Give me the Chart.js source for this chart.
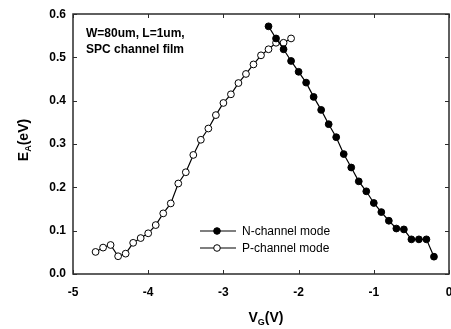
<!DOCTYPE html>
<html>
<head>
<meta charset="utf-8">
<script src="https://cdn.jsdelivr.net/npm/chart.js@4/dist/chart.umd.min.js"></script>
<style>
  html, body { margin: 0; padding: 0; background: #fff; overflow: hidden; }
  #wrap { width: 451px; height: 329px; position: relative; overflow: hidden; }
</style>
</head>
<body>
<div id="wrap"><canvas id="c" width="454" height="329"></canvas></div>
<script>
// Gate voltage (V) and activation energy (eV) for each conduction mode
const vgN = [-2.4, -2.3, -2.2, -2.1, -2.0, -1.9, -1.8, -1.7, -1.6, -1.5, -1.4, -1.3,
             -1.2, -1.1, -1.0, -0.9, -0.8, -0.7, -0.6, -0.5, -0.4, -0.3, -0.2];
const eaN = [0.572, 0.544, 0.519, 0.492, 0.467, 0.442, 0.409, 0.379, 0.346, 0.316, 0.277, 0.246,
             0.214, 0.191, 0.164, 0.143, 0.123, 0.105, 0.103, 0.080, 0.080, 0.080, 0.040];

const vgP = [-4.7, -4.6, -4.5, -4.4, -4.3, -4.2, -4.1, -4.0, -3.9, -3.8, -3.7, -3.6, -3.5,
             -3.4, -3.3, -3.2, -3.1, -3.0, -2.9, -2.8, -2.7, -2.6, -2.5, -2.4, -2.3, -2.2, -2.1];
const eaP = [0.051, 0.061, 0.067, 0.041, 0.047, 0.072, 0.083, 0.094, 0.113, 0.140, 0.163, 0.209, 0.235,
             0.275, 0.310, 0.336, 0.367, 0.395, 0.415, 0.441, 0.462, 0.484, 0.505, 0.519, 0.534, 0.534, 0.544];

const seriesNames = ['N-channel mode', 'P-channel mode'];
const xTicks = [-5, -4, -3, -2, -1, 0];
const yTicks = [0, 0.1, 0.2, 0.3, 0.4, 0.5, 0.6];
const noteLines = ['W=80um, L=1um,', 'SPC channel film'];

const FONT = '"Liberation Sans", Arial, Helvetica, sans-serif';
const INK = '#000';
const FRAME = '#2b2b2b';

function toPoints(xs, ys) { return xs.map((x, i) => ({ x: x, y: ys[i] })); }

// Frame, inward ticks, axis titles, note and legend
const decor = {
  id: 'decor',
  afterDraw(chart) {
    const ctx = chart.ctx;
    const xs = chart.scales.x, ys = chart.scales.y;
    const L = Math.round(xs.getPixelForValue(-5));
    const R = Math.round(xs.getPixelForValue(0));
    const T = Math.round(ys.getPixelForValue(0.6));
    const B = Math.round(ys.getPixelForValue(0));
    ctx.save();

    // box around the plot
    ctx.strokeStyle = FRAME;
    ctx.lineWidth = 1.5;
    ctx.lineCap = 'square';
    ctx.beginPath();
    ctx.moveTo(L, T); ctx.lineTo(R, T);
    ctx.lineTo(R, B); ctx.lineTo(L, B);
    ctx.closePath();
    ctx.stroke();

    // inward ticks on all four sides
    const tl = 4;
    ctx.lineWidth = 1;
    ctx.lineCap = 'butt';
    ctx.beginPath();
    xTicks.forEach(v => {
      const px = Math.round(xs.getPixelForValue(v)) + 0.5;
      ctx.moveTo(px, B); ctx.lineTo(px, B - tl);
      ctx.moveTo(px, T); ctx.lineTo(px, T + tl);
    });
    yTicks.forEach(v => {
      const py = Math.round(ys.getPixelForValue(v)) + 0.5;
      ctx.moveTo(L, py); ctx.lineTo(L + tl, py);
      ctx.moveTo(R, py); ctx.lineTo(R - tl, py);
    });
    ctx.stroke();

    ctx.fillStyle = INK;
    ctx.textBaseline = 'alphabetic';
    const drawSub = (parts, x, y) => {
      let cx = x;
      parts.forEach(p => {
        ctx.font = 'bold ' + p.size + 'px ' + FONT;
        ctx.fillText(p.t, cx, y + (p.dy || 0));
        cx += ctx.measureText(p.t).width;
      });
    };
    const measureSub = (parts) => {
      let w = 0;
      parts.forEach(p => { ctx.font = 'bold ' + p.size + 'px ' + FONT; w += ctx.measureText(p.t).width; });
      return w;
    };

    // V_G(V)
    const xTitle = [{ t: 'V', size: 14 }, { t: 'G', size: 9, dy: 3 }, { t: '(V)', size: 14 }];
    const xw = measureSub(xTitle);
    drawSub(xTitle, (L + R) / 2 - xw / 2 + 5, 322);

    // E_A(eV), rotated
    const yTitle = [{ t: 'E', size: 14 }, { t: 'A', size: 9, dy: 3 }, { t: '(eV)', size: 14 }];
    const yw = measureSub(yTitle);
    ctx.save();
    ctx.translate(28, 140);
    ctx.rotate(-Math.PI / 2);
    drawSub(yTitle, -yw / 2, 0);
    ctx.restore();

    // note in the upper-left corner
    ctx.font = 'bold 12px ' + FONT;
    ctx.fillText(noteLines[0], 86, 37);
    ctx.fillText(noteLines[1], 86, 53);

    // legend
    const lx0 = 200, lx1 = 236, mx = 217, tx = 242;
    const rows = [231, 248];
    ctx.font = '12px ' + FONT;
    chart.data.datasets.forEach((ds, i) => {
      const y = rows[i];
      ctx.fillStyle = INK;
      ctx.fillRect(lx0, y - 0.5, lx1 - lx0, 1);
      ctx.strokeStyle = INK;
      ctx.lineWidth = 1;
      ctx.beginPath();
      ctx.arc(mx, y, 3.3, 0, Math.PI * 2);
      ctx.fillStyle = ds.pointBackgroundColor;
      ctx.fill();
      ctx.stroke();
      ctx.fillStyle = INK;
      ctx.textBaseline = 'middle';
      ctx.fillText(seriesNames[i], tx, y + 0.5);
    });
    ctx.restore();
  }
};

new Chart(document.getElementById('c'), {
  type: 'scatter',
  data: {
    datasets: [
      {
        label: seriesNames[0],
        data: toPoints(vgN, eaN),
        showLine: true,
        borderColor: INK,
        borderWidth: 1.2,
        pointRadius: 3.4,
        pointBorderWidth: 1,
        pointBackgroundColor: '#000',
        pointBorderColor: INK
      },
      {
        label: seriesNames[1],
        data: toPoints(vgP, eaP),
        showLine: true,
        borderColor: INK,
        borderWidth: 1.2,
        pointRadius: 3.4,
        pointBorderWidth: 1,
        pointBackgroundColor: '#fff',
        pointBorderColor: INK
      }
    ]
  },
  options: {
    responsive: false,
    animation: false,
    devicePixelRatio: 1,
    layout: { padding: { top: 13, right: 2, bottom: 0, left: 0 } },
    plugins: {
      legend: { display: false },
      tooltip: { enabled: false }
    },
    scales: {
      x: {
        type: 'linear',
        min: -5, max: 0,
        afterBuildTicks(s) { s.ticks = xTicks.map(v => ({ value: v })); },
        afterFit(s) { s.height = 55; s.paddingRight = 0; },
        grid: { display: false, drawTicks: false },
        border: { display: false },
        ticks: {
          color: INK,
          padding: 11,
          maxRotation: 0,
          font: { family: FONT, size: 12, weight: 'bold' },
          callback: v => String(v)
        }
      },
      y: {
        type: 'linear',
        min: 0, max: 0.6,
        afterBuildTicks(s) { s.ticks = yTicks.map(v => ({ value: v })); },
        afterFit(s) { s.width = 73; },
        grid: { display: false, drawTicks: false },
        border: { display: false },
        ticks: {
          color: INK,
          padding: 7,
          font: { family: FONT, size: 12, weight: 'bold' },
          callback: v => Number(v).toFixed(1)
        }
      }
    }
  },
  plugins: [decor]
});
</script>
</body>
</html>
